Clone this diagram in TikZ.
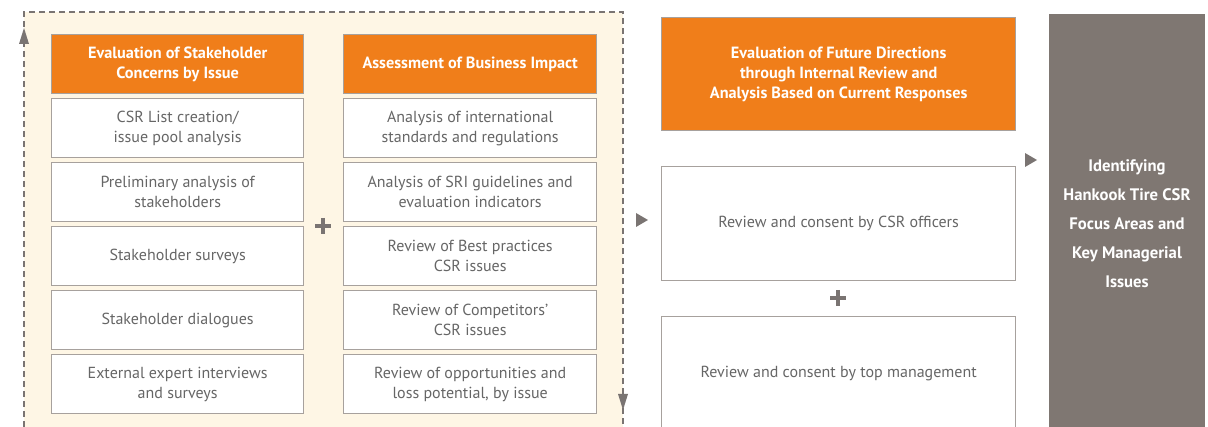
\documentclass[tikz,border=0pt]{standalone}
\usepackage{fontspec}
\setmainfont{PT Sans}
\usetikzlibrary{arrows.meta}
\definecolor{hkorange}{HTML}{F07E1A}
\definecolor{hkgray}{HTML}{7F7772}
\definecolor{hkline}{HTML}{A7A19D}
\definecolor{hkcream}{HTML}{FEF6E5}
\definecolor{hktext}{HTML}{666666}
\definecolor{hkmark}{HTML}{7A7472}
\tikzset{
  px/.style={x=0.75pt,y=-0.75pt},
  headbox/.style={draw=hkline,line width=1pt,fill=hkorange,text=white,font=\bfseries\fontsize{12.2}{15}\selectfont,align=center,inner sep=0pt,anchor=north west},
  itembox/.style={draw=hkline,line width=1pt,fill=white,text=hktext,font=\fontsize{12}{15}\selectfont,align=center,inner sep=0pt,anchor=north west},
  frameline/.style={draw=hkmark,line width=1pt,dash pattern=on 4.5pt off 3pt},
  plusmark/.style={draw=hkmark,line width=3.2pt},
  pointer/.style={fill=hkmark,draw=none},
}
\begin{document}
\begin{tikzpicture}[px]
\useasboundingbox (0,0) rectangle (1208,427);
% cream panel behind the two evaluation columns
\fill[hkcream] (24,12) rectangle (623,427);
% dashed loop frame with direction arrows
\draw[frameline] (24,427) -- (24,12) -- (623,12) -- (623,427);
\fill[hkmark] (24,28) -- (19,44) -- (29,44) -- cycle;
\fill[hkmark] (623,410) -- (618,394) -- (628,394) -- cycle;

% left column: stakeholder concerns
\node[headbox,minimum width=252*0.75pt,minimum height=59*0.75pt] (lh) at (51,34) {Evaluation of Stakeholder\\Concerns by Issue};
\node[itembox,minimum width=252*0.75pt,minimum height=59*0.75pt] (l1) at (51,98) {CSR List creation/\\issue pool analysis};
\node[itembox,minimum width=252*0.75pt,minimum height=59*0.75pt] (l2) at (51,162) {Preliminary analysis of\\stakeholders};
\node[itembox,minimum width=252*0.75pt,minimum height=59*0.75pt] (l3) at (51,226) {Stakeholder surveys};
\node[itembox,minimum width=252*0.75pt,minimum height=59*0.75pt] (l4) at (51,290) {Stakeholder dialogues};
\node[itembox,minimum width=252*0.75pt,minimum height=59*0.75pt] (l5) at (51,354) {External expert interviews\\and surveys};

% middle column: business impact
\node[headbox,minimum width=253*0.75pt,minimum height=59*0.75pt] (mh) at (343,34) {Assessment of Business Impact};
\node[itembox,minimum width=253*0.75pt,minimum height=59*0.75pt] (m1) at (343,98) {Analysis of international\\standards and regulations};
\node[itembox,minimum width=253*0.75pt,minimum height=59*0.75pt] (m2) at (343,162) {Analysis of SRI guidelines and\\evaluation indicators};
\node[itembox,minimum width=253*0.75pt,minimum height=59*0.75pt] (m3) at (343,226) {Review of Best practices\\CSR issues};
\node[itembox,minimum width=253*0.75pt,minimum height=59*0.75pt] (m4) at (343,290) {Review of Competitors'\\CSR issues};
\node[itembox,minimum width=253*0.75pt,minimum height=59*0.75pt] (m5) at (343,354) {Review of opportunities and\\loss potential, by issue};

% plus between the two columns
\draw[plusmark] (315,226) -- (331,226) (323,218) -- (323,234);

% pointer into the review column
\fill[pointer] (648,220) -- (636,213) -- (636,227) -- cycle;

% right column: internal review
\node[headbox,minimum width=354*0.75pt,minimum height=113*0.75pt] (rh) at (661,17) {Evaluation of Future Directions\\through Internal Review and\\Analysis Based on Current Responses};
\node[itembox,minimum width=354*0.75pt,minimum height=114*0.75pt] (r1) at (661,166) {Review and consent by CSR officers};
\draw[plusmark] (830,298) -- (846,298) (838,290) -- (838,306);
\node[itembox,minimum width=354*0.75pt,minimum height=114*0.75pt] (r2) at (661,316) {Review and consent by top management};

% pointer into the result box
\fill[pointer] (1037,160) -- (1025,153) -- (1025,167) -- cycle;

% result box
\node[fill=hkgray,inner sep=0pt,anchor=north west,minimum width=156*0.75pt,minimum height=414*0.75pt] (res) at (1049,14) {};
\node[text=white,font=\bfseries\fontsize{12.5}{21.75}\selectfont,align=center,inner sep=0pt] (restext) at (1127,224) {Identifying\\Hankook Tire CSR\\Focus Areas and\\Key Managerial\\Issues};
\end{tikzpicture}
\end{document}
